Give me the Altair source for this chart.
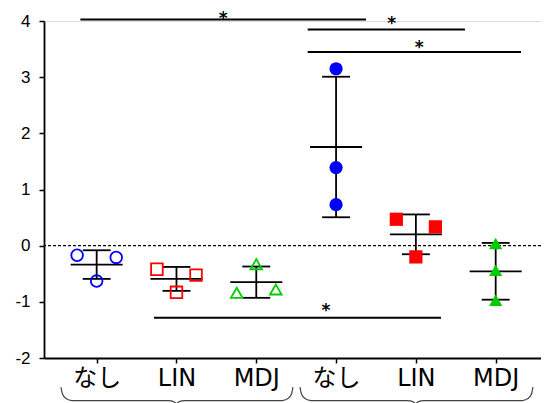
import altair as alt
import pandas as pd

# ---- data ----
GROUP_LABELS = ["なし", "LIN", "MDJ", "なし", "LIN", "MDJ"]
GROUP_COLORS = ["#0000FF", "#FF0000", "#00CC00", "#0000FF", "#FF0000", "#00CC00"]
GROUP_SHAPES = ["circle", "square", "triangle-up", "circle", "square", "triangle-up"]
GROUP_FILLED = [False, False, False, True, True, True]

VALUES_G1 = [-0.17, -0.63, -0.21]
VALUES_G2 = [-0.42, -0.83, -0.525]
VALUES_G3 = [-0.84, -0.33, -0.78]
VALUES_G4 = [3.15, 1.39, 0.73]
VALUES_G5 = [0.47, -0.20, 0.335]
VALUES_G6 = [0.04, -0.44, -0.97]
VALUES = [VALUES_G1, VALUES_G2, VALUES_G3, VALUES_G4, VALUES_G5, VALUES_G6]

# horizontal placement of each replicate (-1 left, 0 centre, 1 right)
JITTER = [[-1, 0, 1], [-1, 0, 1], [-1, 0, 1], [0, 0, 0], [-1, 0, 1], [0, 0, 0]]

# significance bars: start group, end group, height, star position
SIG_X1 = [-0.204, 2.644, 2.644, 0.718]
SIG_X2 = [3.375, 4.615, 5.317, 4.315]
SIG_Y = [4.025, 3.847, 3.448, -1.285]
STAR_X = [1.586, 3.697, 4.043, 2.873]
STAR_Y = [4.119, 4.03, 3.609, -1.077]

# brace spans under the axis: left, cusp, right (in group units)
BRACE_LEFT = [-0.447, 2.548]
BRACE_MID = [1.0, 3.997]
BRACE_RIGHT = [2.46, 5.467]

Y_TICKS = [-2, -1, 0, 1, 2, 3, 4]

# ---- layout constants ----
JIT_STEP = 0.245
PX_X = 1 / 79.8   # one pixel in x units
PX_Y = 1 / 56.2   # one pixel in y units

rows = []
for g, vals in enumerate(VALUES):
    for j, v in zip(JITTER[g], vals):
        rows.append({
            "group": g,
            "xpos": g + j * JIT_STEP,
            "value": v,
            "color": GROUP_COLORS[g],
            "shape": GROUP_SHAPES[g],
            "filled": GROUP_FILLED[g],
        })
pts = pd.DataFrame(rows)

sig = pd.DataFrame({"x1": SIG_X1, "x2": SIG_X2, "y": SIG_Y})
stars = pd.DataFrame({"x": STAR_X, "y": STAR_Y, "t": ["*"] * len(STAR_X)})

# brace outline (decorative path relative to span)
brace_rows = []
y_top = (245.5 - 387) / 56.2
for b, (L, M, R) in enumerate(zip(BRACE_LEFT, BRACE_MID, BRACE_RIGHT)):
    shape = [
        (L, 0), (L + 1.5 * PX_X, 7), (L + 5 * PX_X, 11.5), (L + 11 * PX_X, 13.5),
        (M - 8 * PX_X, 13.5), (M - 2.8 * PX_X, 14.5), (M, 16.5),
        (M + 2.8 * PX_X, 14.5), (M + 8 * PX_X, 13.5),
        (R - 11 * PX_X, 13.5), (R - 5 * PX_X, 11.5), (R - 1.5 * PX_X, 7), (R, 0),
    ]
    for k, (x, dpx) in enumerate(shape):
        brace_rows.append({"b": b, "k": k, "x": x, "y": y_top - dpx * PX_Y})
braces = pd.DataFrame(brace_rows)

XDOM = [-0.660, 5.568]
YDOM = [-2, 4]
xs = alt.Scale(domain=XDOM, nice=False, zero=False)
ys = alt.Scale(domain=YDOM, nice=False, zero=False)

label_expr = "[" + ",".join("'" + s + "'" for s in GROUP_LABELS) + "][datum.value]"

x_axis = alt.Axis(
    values=list(range(len(GROUP_LABELS))), labelExpr=label_expr, title=None,
    grid=False, domainColor="black", domainWidth=1.8, tickColor="black",
    tickWidth=1.5, tickSize=5, labelFontSize=24, labelFont="DejaVu Sans, Noto Sans CJK JP",
    labelColor="black", labelPadding=3,
)
y_axis = alt.Axis(
    values=Y_TICKS, labelExpr="'' + datum.value", title=None, grid=False,
    domainColor="black", domainWidth=1.8,
    tickColor="black", tickWidth=1.5, tickSize=5, labelFontSize=17,
    labelFont="Liberation Sans", labelColor="black", labelPadding=9,
)

zero = alt.Chart(pd.DataFrame({"z": [0]})).mark_rule(
    color="black", strokeDash=[3, 2], strokeWidth=1.2
).encode(y=alt.Y("z:Q", scale=ys, axis=y_axis))

stats = alt.Chart(pts).transform_aggregate(
    mean="mean(value)", sd="stdev(value)", groupby=["group"]
).transform_calculate(
    lo="datum.mean - datum.sd", hi="datum.mean + datum.sd",
    c1="datum.group - 0.175", c2="datum.group + 0.175",
    m1="datum.group - 0.326", m2="datum.group + 0.326",
)

vbar = stats.mark_rule(color="black", strokeWidth=1.8).encode(
    x=alt.X("group:Q", scale=xs, axis=x_axis), y=alt.Y("lo:Q", scale=ys), y2="hi:Q"
)
cap_hi = stats.mark_rule(color="black", strokeWidth=1.8).encode(
    x=alt.X("c1:Q", scale=xs), x2="c2:Q", y=alt.Y("hi:Q", scale=ys)
)
cap_lo = stats.mark_rule(color="black", strokeWidth=1.8).encode(
    x=alt.X("c1:Q", scale=xs), x2="c2:Q", y=alt.Y("lo:Q", scale=ys)
)
mean_line = stats.mark_rule(color="black", strokeWidth=1.8).encode(
    x=alt.X("m1:Q", scale=xs), x2="m2:Q", y=alt.Y("mean:Q", scale=ys)
)

shape_scale = alt.Scale(domain=["circle", "square", "triangle-up"],
                        range=["circle", "square", "triangle-up"])
color_scale = alt.Scale(domain=["#0000FF", "#FF0000", "#00CC00"],
                        range=["#0000FF", "#FF0000", "#00CC00"])

open_pts = alt.Chart(pts).transform_filter("!datum.filled").mark_point(
    filled=False, strokeWidth=1.8, size=135, opacity=1
).encode(
    x=alt.X("xpos:Q", scale=xs), y=alt.Y("value:Q", scale=ys),
    color=alt.Color("color:N", scale=color_scale, legend=None),
    shape=alt.Shape("shape:N", scale=shape_scale, legend=None),
)
filled_pts = alt.Chart(pts).transform_filter("datum.filled").mark_point(
    filled=True, size=175, opacity=1
).encode(
    x=alt.X("xpos:Q", scale=xs), y=alt.Y("value:Q", scale=ys),
    color=alt.Color("color:N", scale=color_scale, legend=None),
    shape=alt.Shape("shape:N", scale=shape_scale, legend=None),
)

sig_rules = alt.Chart(sig).mark_rule(color="black", strokeWidth=2).encode(
    x=alt.X("x1:Q", scale=xs), x2="x2:Q", y=alt.Y("y:Q", scale=ys)
)
star_text = alt.Chart(stars).mark_text(
    fontSize=17, fontWeight="bold", font="DejaVu Sans", color="black",
    baseline="alphabetic", dy=10
).encode(x=alt.X("x:Q", scale=xs), y=alt.Y("y:Q", scale=ys), text="t:N")

brace_lines = alt.Chart(braces).mark_line(
    color="#444444", strokeWidth=1.2, interpolate="monotone"
).encode(
    x=alt.X("x:Q", scale=xs), y=alt.Y("y:Q", scale=ys), detail="b:N", order="k:Q"
)

chart = alt.layer(
    zero, vbar, cap_hi, cap_lo, mean_line, open_pts, filled_pts,
    sig_rules, star_text, brace_lines
).properties(
    width=497, height=337,
    autosize=alt.AutoSizeParams(type="none"),
    padding={"left": 36, "top": 13, "right": 0, "bottom": 45},
).configure_view(stroke="transparent").configure(background="white")

chart.save("out.html", embed_options={"renderer": "svg", "actions": False})
